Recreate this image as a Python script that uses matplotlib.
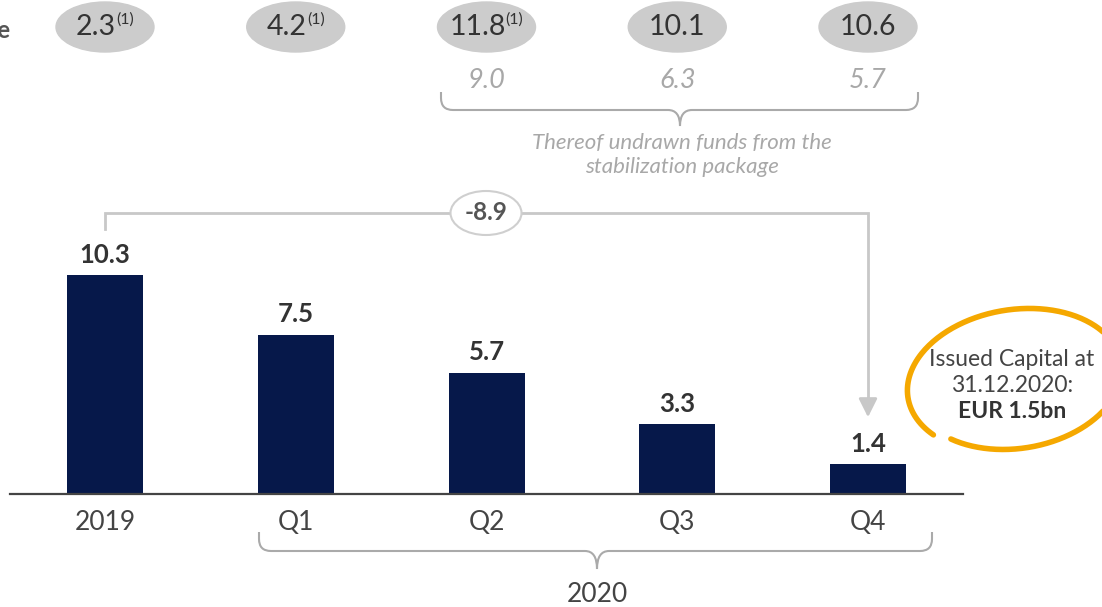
import numpy as np
import matplotlib.pyplot as plt
from matplotlib.patches import Ellipse, PathPatch
from matplotlib.path import Path

# Net debt development (EUR bn)
categories = ['2019', 'Q1', 'Q2', 'Q3', 'Q4']
net_debt = [10.3, 7.5, 5.7, 3.3, 1.4]
# Liquidity reserve row (top)
liquidity = ['2.3', '4.2', '11.8', '10.1', '10.6']
footnotes = ['(1)', '(1)', '(1)', '', '']
# thereof undrawn funds (Q2..Q4)
undrawn = ['9.0', '6.3', '5.7']
undrawn_idx = [2, 3, 4]
change = '-8.9'

W, H = 1102, 607
X0, STEP = 105, 190.75      # px of first bar center, px per category
Y0, UNIT = 494, 21.26       # px (from top) of baseline, px per EUR bn


def dx(px):
    return px / STEP


def dy(px):
    return px / UNIT


def yat(px_top):
    # vertical position in data units for a pixel row measured from the top
    return (Y0 - px_top) / UNIT


def xat(px_left):
    return (px_left - X0) / STEP


BAR = '#06184a'
DARK = '#333333'
GREY = '#c8c8c8'
LIGHT = '#a8a8a8'
ORANGE = '#f5a800'
THIN = 'normal'

plt.rcParams['font.family'] = ['Lato', 'DejaVu Sans']

fig = plt.figure(figsize=(W / 100, H / 100), dpi=100)
ax = fig.add_axes([0, 0, 1, 1])
ax.set_xlim(-X0 / STEP, (W - X0) / STEP)
ax.set_ylim(-(H - Y0) / UNIT, Y0 / UNIT)
ax.axis('off')

x = np.arange(len(categories))

# bars + baseline
ax.bar(x, net_debt, width=dx(76), color=BAR, zorder=2)
ax.plot([xat(10), xat(963)], [0, 0], color='#444444', lw=1.6, zorder=3)

for xi, v in zip(x, net_debt):
    ax.annotate(f'{v:.1f}', (xi, v), xytext=(0, 6), textcoords='offset points',
                ha='center', va='bottom', fontsize=18.5, fontweight='bold', color=DARK)

for xi, c in zip(x, categories):
    ax.text(xi, yat(522), c, ha='center', va='center', fontsize=19,
            fontweight=THIN, color='#444444')

ax.text(xat(597), yat(594), '2020', ha='center', va='center', fontsize=19,
        fontweight=THIN, color='#444444')


def bracket(xl, xr, xc, ytop, ymid, ytip, rx=12, ry=12):
    rxd, ryd = dx(rx), dy(ry)
    verts = [(xl, ytop), (xl, ymid + ryd), (xl, ymid), (xl + rxd, ymid),
             (xc - rxd, ymid), (xc, ymid), (xc, ytip),
             (xc, ymid), (xc + rxd, ymid),
             (xr - rxd, ymid), (xr, ymid), (xr, ymid + ryd), (xr, ytop)]
    codes = [Path.MOVETO, Path.LINETO, Path.CURVE3, Path.CURVE3,
             Path.LINETO, Path.CURVE3, Path.CURVE3,
             Path.CURVE3, Path.CURVE3,
             Path.LINETO, Path.CURVE3, Path.CURVE3, Path.LINETO]
    ax.add_patch(PathPatch(Path(verts, codes), fill=False, ec='#aaaaaa', lw=1.5))


bracket(xat(259), xat(932), xat(597), yat(532), yat(551), yat(569))
bracket(xat(441), xat(918), xat(680), yat(92), yat(110), yat(126))

# top row: liquidity reserve ellipses
ax.text(xat(10), yat(30), 'Liquidity reserve', ha='right', va='center',
        fontsize=17, fontweight='bold', color='#555555')
for xi, val, fn in zip(x, liquidity, footnotes):
    ax.add_patch(Ellipse((xi, yat(27)), dx(98), dy(50), color='#cccccc', zorder=2))
    if fn:
        main = ax.text(xi - dx(9), yat(27), val, ha='center', va='center',
                       fontsize=20.5, fontweight=THIN, color=DARK, zorder=3)
        ax.annotate(fn, xy=(1.0, 0.78), xycoords=main, ha='left', va='center',
                    fontsize=11.5, fontweight=THIN, color=DARK, zorder=3)
    else:
        ax.text(xi, yat(27), val, ha='center', va='center', fontsize=20.5,
                fontweight=THIN, color=DARK, zorder=3)

for i, val in zip(undrawn_idx, undrawn):
    ax.text(x[i], yat(80), val, ha='center', va='center', fontsize=19.5,
            fontstyle='italic', fontweight=THIN, color=LIGHT)
ax.text(xat(682), yat(155), 'Thereof undrawn funds from the\nstabilization package',
        ha='center', va='center', fontsize=16, fontstyle='italic',
        fontweight=THIN, color=LIGHT, linespacing=1.3)

# change arrow 2019 -> Q4
y_line = yat(213)
ax.plot([x[0], x[0], x[-1], x[-1]], [yat(229), y_line, y_line, yat(402)],
        color=GREY, lw=2, zorder=1, solid_joinstyle='miter')
ax.annotate('', xy=(x[-1], yat(420)), xytext=(x[-1], yat(400)),
            arrowprops=dict(arrowstyle='-|>', color=GREY, lw=2, mutation_scale=28))
ax.add_patch(Ellipse((xat(486), y_line), dx(71), dy(44), fc='white', ec='#cfcfcf',
                     lw=1.5, zorder=3))
ax.text(xat(486), y_line, change, ha='center', va='center', fontsize=17.5,
        fontweight='bold', color='#555555', zorder=4)

# hand drawn orange loop around issued capital note
t = np.linspace(np.radians(225), np.radians(225 + 350), 300)
grow = 1 + 0.06 * (t - t[0]) / (2 * np.pi)
a, b, phi = 104 * grow, 68 * grow, np.radians(9)
cx, cy = 1016, 380
px_x = cx + a * np.cos(t) * np.cos(phi) - b * np.sin(t) * np.sin(phi)
px_y = cy - (a * np.cos(t) * np.sin(phi) + b * np.sin(t) * np.cos(phi))
ax.plot(xat(px_x), yat(px_y), color=ORANGE, lw=4, solid_capstyle='round')

ax.text(xat(1012), yat(360), 'Issued Capital at', ha='center', va='center',
        fontsize=16.5, fontweight=THIN, color='#444444')
ax.text(xat(1012), yat(385), '31.12.2020:', ha='center', va='center',
        fontsize=16.5, fontweight=THIN, color='#444444')
ax.text(xat(1012), yat(412), 'EUR 1.5bn', ha='center', va='center',
        fontsize=16.5, fontweight='bold', color=DARK)

fig.savefig('out.png', dpi=100)
